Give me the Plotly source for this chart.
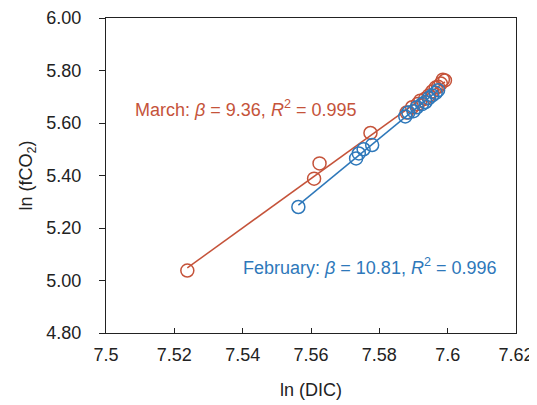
import numpy as np
import plotly.graph_objects as go

# February (blue)
feb_x = [7.5563, 7.5732, 7.5740, 7.5754, 7.5779, 7.5876, 7.5885, 7.5900, 7.5910,
         7.5925, 7.5935, 7.5945, 7.5955, 7.5965, 7.5972]
feb_y = [5.280, 5.465, 5.484, 5.500, 5.516, 5.625, 5.640, 5.645, 5.660,
         5.672, 5.680, 5.695, 5.705, 5.715, 5.725]

# March (red)
mar_x = [7.5238, 7.5609, 7.5625, 7.5774, 7.5880, 7.5896, 7.5912, 7.5920, 7.5934,
         7.5945, 7.5955, 7.5965, 7.5972, 7.5980, 7.5986, 7.5992]
mar_y = [5.038, 5.388, 5.446, 5.562, 5.640, 5.660, 5.672, 5.685, 5.692,
         5.705, 5.720, 5.735, 5.738, 5.750, 5.765, 5.762]

x_ticks = [7.5, 7.52, 7.54, 7.56, 7.58, 7.6, 7.62]
x_tick_text = ["7.5", "7.52", "7.54", "7.56", "7.58", "7.6", "7.62"]
y_ticks = [4.8, 5.0, 5.2, 5.4, 5.6, 5.8, 6.0]
y_tick_text = ["4.80", "5.00", "5.20", "5.40", "5.60", "5.80", "6.00"]

RED = "#C5533A"
BLUE = "#2E78BA"
FONT = "Liberation Sans, Arial, sans-serif"


def fit_line(xs, ys):
    k, b = np.polyfit(xs, ys, 1)
    lx = [min(xs), max(xs)]
    return lx, [k * v + b for v in lx]


fig = go.Figure()
for xs, ys, col in [(mar_x, mar_y, RED), (feb_x, feb_y, BLUE)]:
    lx, ly = fit_line(xs, ys)
    fig.add_trace(go.Scatter(x=lx, y=ly, mode="lines",
                             line=dict(color=col, width=1.5), showlegend=False))
    fig.add_trace(go.Scatter(x=xs, y=ys, mode="markers",
                             marker=dict(symbol="circle-open", size=13,
                                         color=col, line=dict(width=1.5, color=col)),
                             showlegend=False, cliponaxis=False))

fig.add_annotation(x=7.5078, y=5.654, xref="x", yref="y", xanchor="left", yanchor="middle",
                   text="March: <i>β</i> = 9.36, <i>R</i><sup>2</sup> = 0.995",
                   showarrow=False, font=dict(color=RED, size=18, family=FONT))
fig.add_annotation(x=7.5396, y=5.053, xref="x", yref="y", xanchor="left", yanchor="middle",
                   text="February: <i>β</i> = 10.81, <i>R</i><sup>2</sup> = 0.996",
                   showarrow=False, font=dict(color=BLUE, size=18, family=FONT))

axis_common = dict(showline=True, linecolor="#222", linewidth=1.3, mirror=True,
                   showgrid=False, zeroline=False, automargin=False,
                   ticklabeloverflow="allow",
                   tickfont=dict(size=18, color="#222", family=FONT),
                   tickcolor="#222", tickwidth=1.3)

fig.update_xaxes(range=[7.5, 7.62], tickvals=x_ticks, ticktext=x_tick_text,
                 ticks="inside", ticklen=5, ticklabelstandoff=5,
                 title=dict(text="ln (DIC)", font=dict(size=18, color="#222", family=FONT), standoff=19),
                 **axis_common)
fig.update_yaxes(range=[4.8, 6.0], tickvals=y_ticks, ticktext=y_tick_text,
                 ticks="outside", ticklen=6, ticklabelstandoff=14,
                 title=dict(text="ln (fCO<sub>2</sub>)", font=dict(size=18, color="#222", family=FONT), standoff=8),
                 **axis_common)

# page body has an 8px default margin, so the figure is sized to fit inside the window
fig.update_layout(width=529, height=397, margin=dict(l=98, r=21, t=10, b=72),
                  paper_bgcolor="white", plot_bgcolor="white",
                  font=dict(family=FONT))

fig.write_html("out.html")
